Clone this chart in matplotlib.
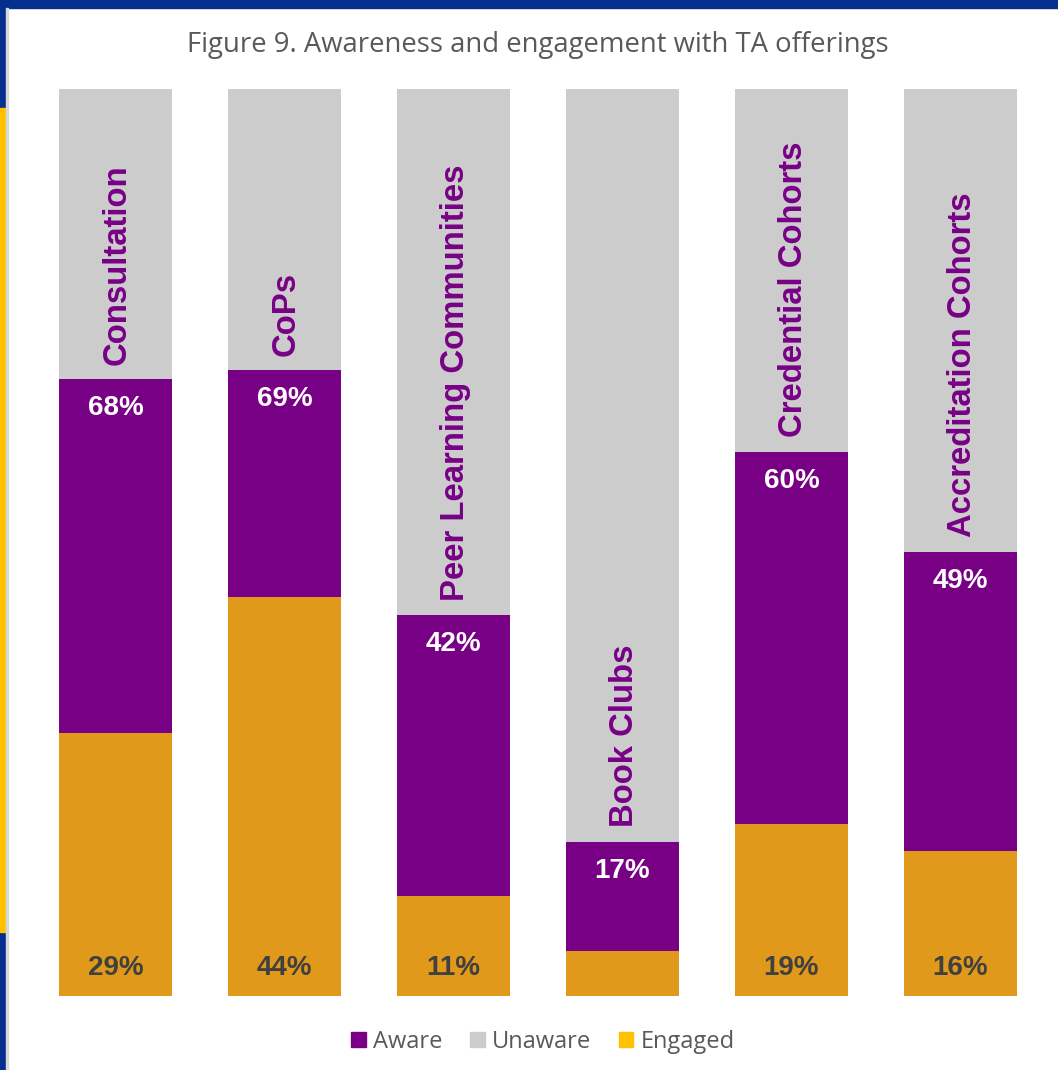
import matplotlib.pyplot as plt
from matplotlib.patches import Patch, Rectangle
import numpy as np

# awareness / engagement per TA offering (percent of respondents)
categories = ['Consultation', 'CoPs', 'Peer Learning Communities',
              'Book Clubs', 'Credential Cohorts', 'Accreditation Cohorts']
aware = [68, 69, 42, 17, 60, 49]
engaged = [29, 44, 11, 5, 19, 16]

PURPLE = '#780085'
GRAY = '#CCCCCC'
ORANGE = '#E0991A'
YELLOW = '#FFC000'
NAVY = '#052F8F'

W, H = 1058, 1070
fig = plt.figure(figsize=(W / 100, H / 100), dpi=100)
fig.patch.set_facecolor('white')

# page frame: navy band on top and left, yellow accent on the left edge
fig.add_artist(Rectangle((0, 1 - 8 / H), 1, 8 / H, transform=fig.transFigure,
                         color=NAVY, zorder=0))
fig.add_artist(Rectangle((0, 0), 6 / W, 1, transform=fig.transFigure,
                         color=NAVY, zorder=0))
fig.add_artist(Rectangle((0, 1 - 932 / H), 6 / W, (932 - 108) / H,
                         transform=fig.transFigure, color=YELLOW, zorder=1))
fig.add_artist(Rectangle((6 / W, 0), 2 / W, 1 - 8 / H, transform=fig.transFigure,
                         color='#D8D8D8', zorder=1))

ax = fig.add_axes([59 / W, (H - 996) / H, (1017 - 59) / W, 907 / H])
x = np.arange(len(categories))
width = 0.67
aware = np.array(aware)
engaged = np.array(engaged)

ax.bar(x, engaged, width, color=ORANGE)
ax.bar(x, aware - engaged, width, bottom=engaged, color=PURPLE)
ax.bar(x, 100 - aware, width, bottom=aware, color=GRAY)

ax.set_xlim(-width / 2, len(categories) - 1 + width / 2)
ax.set_ylim(0, 100)
ax.axis('off')

bold = dict(family=['Liberation Sans', 'DejaVu Sans'], fontweight='bold')
for i, name in enumerate(categories):
    ax.text(x[i] + 0.01, aware[i] + 1.6, name, rotation=90, ha='center',
            va='bottom', color=PURPLE, fontsize=23.7, **bold)
    ax.text(x[i], aware[i] - 3.2, f'{aware[i]}%', ha='center', va='center',
            color='white', fontsize=20, **bold)
    if engaged[i] >= 10:
        ax.text(x[i], 3.1, f'{engaged[i]}%', ha='center', va='center',
                color='#404040', fontsize=20, **bold)

fig.text(538 / W, 1 - 45 / H, 'Figure 9. Awareness and engagement with TA offerings',
         ha='center', va='center', color='#595959', fontsize=19.8,
         family=['Open Sans', 'DejaVu Sans'])

handles = [Patch(color=PURPLE, label='Aware'),
           Patch(color=GRAY, label='Unaware'),
           Patch(color=YELLOW, label='Engaged')]
leg = fig.legend(handles=handles, loc='center', bbox_to_anchor=(543 / W, 1 - 1042 / H),
                 ncol=3, frameon=False, handlelength=0.6, handleheight=0.6,
                 handletextpad=0.3, columnspacing=1.2,
                 prop={'family': ['Open Sans', 'DejaVu Sans'], 'size': 17})
for t in leg.get_texts():
    t.set_color('#595959')

fig.savefig('out.png', dpi=100, facecolor='white')
